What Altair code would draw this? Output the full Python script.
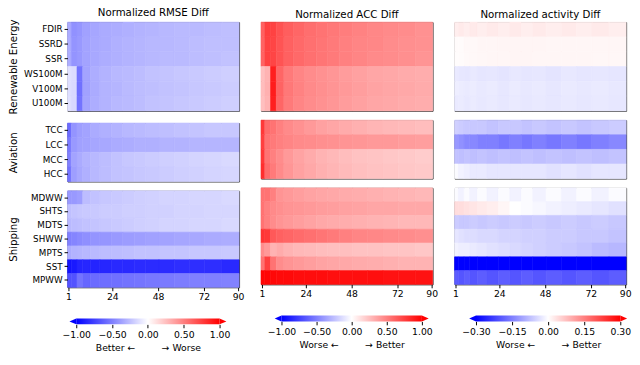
import altair as alt
import pandas as pd

# ---------------- data ----------------
lead_start = [1, 3, 6, 9, 13, 18, 24, 30, 36, 42, 49, 57, 65, 73, 82]
lead_end = [2, 5, 8, 12, 17, 23, 29, 35, 41, 48, 56, 64, 72, 81, 90]
x_ticks = [1, 24, 48, 72, 90]

renewable_vars = ["FDIR", "SSRD", "SSR", "WS100M", "V100M", "U100M"]
aviation_vars = ["TCC", "LCC", "MCC", "HCC"]
shipping_vars = ["MDWW", "SHTS", "MDTS", "SHWW", "MPTS", "SST", "MPWW"]
group_names = ["Renewable Energy", "Aviation", "Shipping"]

panel_titles = ["Normalized RMSE Diff", "Normalized ACC Diff", "Normalized activity Diff"]
cbar_limits = [1.0, 1.0, 0.3]
cbar_ticks = [[-1.0, -0.5, 0.0, 0.5, 1.0], [-1.0, -0.5, 0.0, 0.5, 1.0], [-0.3, -0.15, 0.0, 0.15, 0.3]]
GAP = "\u00a0" * 9
cbar_titles = ["Better \u2190" + GAP + "\u2192 Worse", "Worse \u2190" + GAP + "\u2192 Better", "Worse \u2190" + GAP + "\u2192 Better"]

rmse_renewable = [
    [-0.33, -0.43, -0.41, -0.37, -0.35, -0.33, -0.32, -0.31, -0.30, -0.29, -0.28, -0.27, -0.27, -0.26, -0.25],
    [-0.32, -0.42, -0.40, -0.36, -0.34, -0.33, -0.31, -0.30, -0.29, -0.28, -0.28, -0.27, -0.26, -0.25, -0.25],
    [-0.32, -0.42, -0.40, -0.36, -0.34, -0.32, -0.31, -0.30, -0.29, -0.28, -0.27, -0.27, -0.26, -0.25, -0.24],
    [-0.12, -0.14, -0.55, -0.36, -0.32, -0.30, -0.28, -0.27, -0.26, -0.24, -0.23, -0.22, -0.21, -0.20, -0.19],
    [-0.13, -0.15, -0.56, -0.37, -0.33, -0.30, -0.29, -0.27, -0.26, -0.25, -0.24, -0.23, -0.22, -0.21, -0.20],
    [-0.12, -0.15, -0.55, -0.36, -0.32, -0.30, -0.28, -0.27, -0.26, -0.24, -0.23, -0.22, -0.21, -0.20, -0.19],
]
rmse_aviation = [
    [-0.58, -0.42, -0.38, -0.36, -0.33, -0.31, -0.30, -0.28, -0.27, -0.26, -0.25, -0.24, -0.23, -0.22, -0.22],
    [-0.52, -0.40, -0.37, -0.36, -0.35, -0.34, -0.33, -0.32, -0.31, -0.31, -0.30, -0.30, -0.29, -0.29, -0.29],
    [-0.50, -0.36, -0.33, -0.30, -0.28, -0.26, -0.24, -0.22, -0.21, -0.20, -0.19, -0.18, -0.17, -0.16, -0.15],
    [-0.55, -0.38, -0.34, -0.31, -0.28, -0.26, -0.24, -0.23, -0.22, -0.21, -0.20, -0.19, -0.18, -0.17, -0.16],
]
rmse_shipping = [
    [-0.40, -0.40, -0.38, -0.26, -0.24, -0.22, -0.21, -0.20, -0.19, -0.18, -0.17, -0.17, -0.16, -0.16, -0.15],
    [-0.25, -0.23, -0.22, -0.21, -0.21, -0.20, -0.20, -0.19, -0.19, -0.18, -0.18, -0.17, -0.17, -0.16, -0.16],
    [-0.28, -0.26, -0.25, -0.24, -0.23, -0.22, -0.21, -0.20, -0.19, -0.18, -0.17, -0.17, -0.16, -0.16, -0.15],
    [-0.50, -0.48, -0.46, -0.44, -0.42, -0.41, -0.40, -0.39, -0.38, -0.37, -0.36, -0.35, -0.34, -0.33, -0.32],
    [-0.32, -0.30, -0.29, -0.28, -0.27, -0.26, -0.26, -0.25, -0.24, -0.24, -0.23, -0.23, -0.22, -0.22, -0.21],
    [-0.92, -0.90, -0.86, -0.85, -0.86, -0.85, -0.84, -0.84, -0.83, -0.83, -0.83, -0.82, -0.82, -0.82, -0.84],
    [-0.68, -0.68, -0.55, -0.60, -0.58, -0.57, -0.56, -0.55, -0.54, -0.53, -0.52, -0.51, -0.50, -0.50, -0.49],
]

acc_renewable = [
    [0.62, 0.75, 0.74, 0.68, 0.63, 0.60, 0.57, 0.55, 0.53, 0.51, 0.49, 0.47, 0.46, 0.45, 0.43],
    [0.61, 0.74, 0.73, 0.67, 0.62, 0.59, 0.56, 0.54, 0.52, 0.50, 0.48, 0.47, 0.45, 0.44, 0.43],
    [0.61, 0.74, 0.73, 0.67, 0.62, 0.59, 0.56, 0.54, 0.52, 0.50, 0.48, 0.46, 0.45, 0.44, 0.42],
    [0.25, 0.30, 0.88, 0.60, 0.52, 0.48, 0.45, 0.43, 0.41, 0.39, 0.37, 0.35, 0.34, 0.33, 0.32],
    [0.26, 0.31, 0.89, 0.61, 0.53, 0.49, 0.46, 0.44, 0.42, 0.40, 0.38, 0.36, 0.35, 0.34, 0.33],
    [0.25, 0.30, 0.88, 0.60, 0.52, 0.48, 0.45, 0.43, 0.41, 0.39, 0.37, 0.35, 0.34, 0.33, 0.32],
]
acc_aviation = [
    [0.78, 0.58, 0.55, 0.50, 0.46, 0.43, 0.40, 0.37, 0.35, 0.33, 0.31, 0.29, 0.28, 0.27, 0.26],
    [0.75, 0.55, 0.52, 0.50, 0.48, 0.46, 0.45, 0.44, 0.43, 0.42, 0.41, 0.40, 0.40, 0.39, 0.38],
    [0.78, 0.55, 0.50, 0.45, 0.40, 0.36, 0.33, 0.30, 0.28, 0.26, 0.24, 0.23, 0.22, 0.21, 0.20],
    [0.82, 0.58, 0.52, 0.46, 0.41, 0.37, 0.34, 0.31, 0.29, 0.27, 0.25, 0.24, 0.23, 0.22, 0.21],
]
acc_shipping = [
    [0.55, 0.55, 0.50, 0.42, 0.40, 0.38, 0.36, 0.35, 0.34, 0.33, 0.32, 0.31, 0.30, 0.29, 0.28],
    [0.55, 0.50, 0.46, 0.44, 0.42, 0.41, 0.40, 0.39, 0.38, 0.37, 0.36, 0.35, 0.35, 0.34, 0.34],
    [0.55, 0.50, 0.45, 0.42, 0.40, 0.38, 0.36, 0.34, 0.33, 0.32, 0.31, 0.30, 0.29, 0.28, 0.28],
    [0.80, 0.78, 0.65, 0.62, 0.60, 0.58, 0.56, 0.54, 0.52, 0.50, 0.48, 0.47, 0.46, 0.45, 0.44],
    [0.45, 0.40, 0.30, 0.33, 0.30, 0.28, 0.27, 0.26, 0.25, 0.25, 0.24, 0.24, 0.23, 0.23, 0.22],
    [0.55, 0.75, 0.55, 0.45, 0.42, 0.40, 0.38, 0.36, 0.35, 0.34, 0.33, 0.32, 0.31, 0.30, 0.30],
    [0.98, 0.98, 0.97, 0.96, 0.96, 0.95, 0.95, 0.95, 0.94, 0.94, 0.94, 0.94, 0.93, 0.93, 0.93],
]

act_renewable = [
    [0.020, 0.025, 0.020, 0.025, 0.020, 0.025, 0.020, 0.025, 0.020, 0.025, 0.020, 0.025, 0.020, 0.025, 0.020],
    [0.005, 0.005, 0.008, 0.008, 0.010, 0.010, 0.012, 0.012, 0.012, 0.012, 0.010, 0.010, 0.010, 0.010, 0.010],
    [0.004, 0.005, 0.007, 0.008, 0.009, 0.010, 0.011, 0.012, 0.012, 0.011, 0.010, 0.010, 0.010, 0.009, 0.009],
    [-0.025, -0.028, -0.030, -0.026, -0.030, -0.028, -0.032, -0.027, -0.030, -0.028, -0.032, -0.027, -0.030, -0.028, -0.030],
    [-0.020, -0.022, -0.025, -0.022, -0.026, -0.024, -0.028, -0.024, -0.027, -0.025, -0.028, -0.025, -0.027, -0.025, -0.027],
    [-0.025, -0.024, -0.027, -0.024, -0.027, -0.025, -0.028, -0.025, -0.028, -0.026, -0.028, -0.026, -0.028, -0.026, -0.028],
]
act_aviation = [
    [-0.055, -0.060, -0.065, -0.065, -0.065, -0.070, -0.065, -0.065, -0.070, -0.065, -0.070, -0.065, -0.070, -0.065, -0.060],
    [-0.120, -0.130, -0.140, -0.140, -0.150, -0.150, -0.160, -0.150, -0.160, -0.150, -0.160, -0.150, -0.160, -0.150, -0.140],
    [-0.070, -0.075, -0.070, -0.075, -0.070, -0.075, -0.070, -0.075, -0.070, -0.075, -0.070, -0.075, -0.070, -0.075, -0.070],
    [-0.005, -0.015, -0.020, -0.025, -0.025, -0.030, -0.030, -0.030, -0.030, -0.030, -0.035, -0.030, -0.035, -0.030, -0.030],
]
act_shipping = [
    [-0.005, -0.015, -0.005, -0.015, -0.005, -0.015, -0.005, -0.015, -0.005, -0.015, -0.005, -0.015, -0.005, -0.015, -0.005],
    [0.040, 0.040, 0.035, 0.030, 0.025, 0.020, 0.010, 0.000, -0.005, -0.010, -0.015, -0.020, -0.025, -0.030, -0.035],
    [-0.060, -0.065, -0.065, -0.060, -0.065, -0.060, -0.065, -0.060, -0.065, -0.060, -0.065, -0.060, -0.065, -0.060, -0.065],
    [-0.030, -0.035, -0.040, -0.040, -0.045, -0.045, -0.050, -0.050, -0.055, -0.055, -0.060, -0.060, -0.065, -0.065, -0.070],
    [-0.015, -0.020, -0.020, -0.025, -0.030, -0.035, -0.040, -0.045, -0.050, -0.055, -0.060, -0.065, -0.070, -0.080, -0.085],
    [-0.320, -0.320, -0.320, -0.320, -0.320, -0.320, -0.320, -0.320, -0.320, -0.320, -0.320, -0.320, -0.320, -0.320, -0.320],
    [-0.190, -0.200, -0.190, -0.200, -0.190, -0.200, -0.190, -0.200, -0.190, -0.200, -0.190, -0.200, -0.190, -0.200, -0.190],
]

# ---------------- layout / style ----------------
FONT = "DejaVu Sans"
W = 176
ROW_H = [91, 60, 99]
CBAR_PX = [(9, 156), (21, 165), (22, 170)]   # pixel position of -lim / +lim within the panel
CBAR_H = 6
TRI_PX = 7
BLUE, WHITE, RED = "#0000ff", "#ffffff", "#ff0000"

group_vars = [renewable_vars, aviation_vars, shipping_vars]
metric_data = [
    [rmse_renewable, rmse_aviation, rmse_shipping],
    [acc_renewable, acc_aviation, acc_shipping],
    [act_renewable, act_aviation, act_shipping],
]


def make_df(vars_, rows):
    recs = []
    for v, vals in zip(vars_, rows):
        for s, e, val in zip(lead_start, lead_end, vals):
            recs.append({"var": v, "x0": s - 0.5, "x1": e + 0.5, "value": val})
    return pd.DataFrame(recs)


def color_scale(lim):
    return alt.Scale(domain=[-lim, 0, lim], range=[BLUE, WHITE, RED], clamp=True, interpolate="rgb")


def panel(ci, gi):
    vars_ = group_vars[gi]
    df = make_df(vars_, metric_data[ci][gi])
    lim = cbar_limits[ci]
    if gi == 2:
        x_axis = alt.Axis(values=x_ticks, title=None, labelFontSize=9.5, labelFont=FONT,
                          tickSize=3.5, tickColor="black", labelColor="black", domain=False,
                          grid=False, labelPadding=1, labelFlush=False)
    else:
        x_axis = None
    if ci == 0:
        y_axis = alt.Axis(title=group_names[gi], titleAngle=-90, titleX=-50, titleY=ROW_H[gi] / 2,
                          titleAlign="center", titleBaseline="bottom", titleFontSize=10.5,
                          titleFontWeight="normal", titleFont=FONT, titleColor="black",
                          labelFontSize=9, labelFont=FONT, labelColor="black",
                          tickSize=3.5, tickColor="black", domain=False, labelPadding=2)
    else:
        y_axis = None
    props = dict(width=W, height=ROW_H[gi])
    if gi == 0:
        props["title"] = alt.TitleParams(panel_titles[ci], fontSize=10.5, font=FONT,
                                         fontWeight="normal", offset=1, anchor="middle", color="black")
    return alt.Chart(df).mark_rect(strokeWidth=0.6).encode(
        x=alt.X("x0:Q", scale=alt.Scale(domain=[0.5, 90.5], nice=False, zero=False), axis=x_axis),
        x2="x1",
        y=alt.Y("var:N", sort=vars_, scale=alt.Scale(paddingInner=0, paddingOuter=0), axis=y_axis),
        color=alt.Color("value:Q", scale=color_scale(lim), legend=None),
        stroke=alt.Stroke("value:Q", scale=color_scale(lim), legend=None),
    ).properties(**props)


def colorbar(ci):
    lim = cbar_limits[ci]
    p0, p1 = CBAR_PX[ci]
    px_per = (p1 - p0) / (2 * lim)
    lo = -lim - p0 / px_per
    hi = lim + (W - p1) / px_per
    tri = TRI_PX / px_per
    cb_axis = alt.Axis(values=cbar_ticks[ci], format=".2f", title=cbar_titles[ci], titleFontSize=9.5,
                       titleFontWeight="normal", titleFont=FONT, titleColor="black",
                       titleX=(p0 + p1) / 2, titlePadding=4,
                       labelFontSize=9.5, labelFont=FONT, labelColor="black",
                       tickSize=3.5, tickColor="black", domain=False,
                       grid=False, labelPadding=2, labelFlush=False)
    xs = alt.Scale(domain=[lo, hi], nice=False, zero=False)
    bar_df = pd.DataFrame({"a": [-lim], "b": [lim]})
    grad = alt.LinearGradient(gradient="linear", x1=0, x2=1, y1=0, y2=0,
                              stops=[alt.GradientStop(color=BLUE, offset=0),
                                     alt.GradientStop(color=WHITE, offset=0.5),
                                     alt.GradientStop(color=RED, offset=1)])
    bar = alt.Chart(bar_df).mark_rect(color=grad).encode(
        x=alt.X("a:Q", scale=xs, axis=cb_axis),
        x2="b",
    )
    ltri = alt.Chart(pd.DataFrame({"a": [-lim - tri / 2]})).mark_point(
        shape="M -1 0 L 1 -0.86 L 1 0.86 Z", size=TRI_PX * TRI_PX, filled=True,
        color=BLUE, opacity=1, strokeWidth=0).encode(x=alt.X("a:Q", scale=xs, axis=cb_axis))
    rtri = alt.Chart(pd.DataFrame({"a": [lim + tri / 2]})).mark_point(
        shape="M 1 0 L -1 -0.86 L -1 0.86 Z", size=TRI_PX * TRI_PX, filled=True,
        color=RED, opacity=1, strokeWidth=0).encode(x=alt.X("a:Q", scale=xs, axis=cb_axis))
    return alt.layer(bar, ltri, rtri).properties(
        width=W, height=CBAR_H, view=alt.ViewBackground(stroke="transparent"))


columns = []
for ci in range(3):
    panels = alt.vconcat(*[panel(ci, gi) for gi in range(3)], spacing=7.5).resolve_scale(
        color="independent", stroke="independent", y="independent", x="independent")
    col = alt.vconcat(panels, colorbar(ci), spacing=16).resolve_scale(
        color="independent", x="independent")
    columns.append(col)

chart = alt.hconcat(*columns, spacing=13.5).resolve_scale(
    color="independent", stroke="independent", x="independent", y="independent"
).properties(padding={"left": 0, "top": -6, "right": 0, "bottom": 0}, background="white"
).configure_view(stroke="#333333", strokeWidth=1)

chart.save("out.html", embed_options={"renderer": "svg", "actions": False})
